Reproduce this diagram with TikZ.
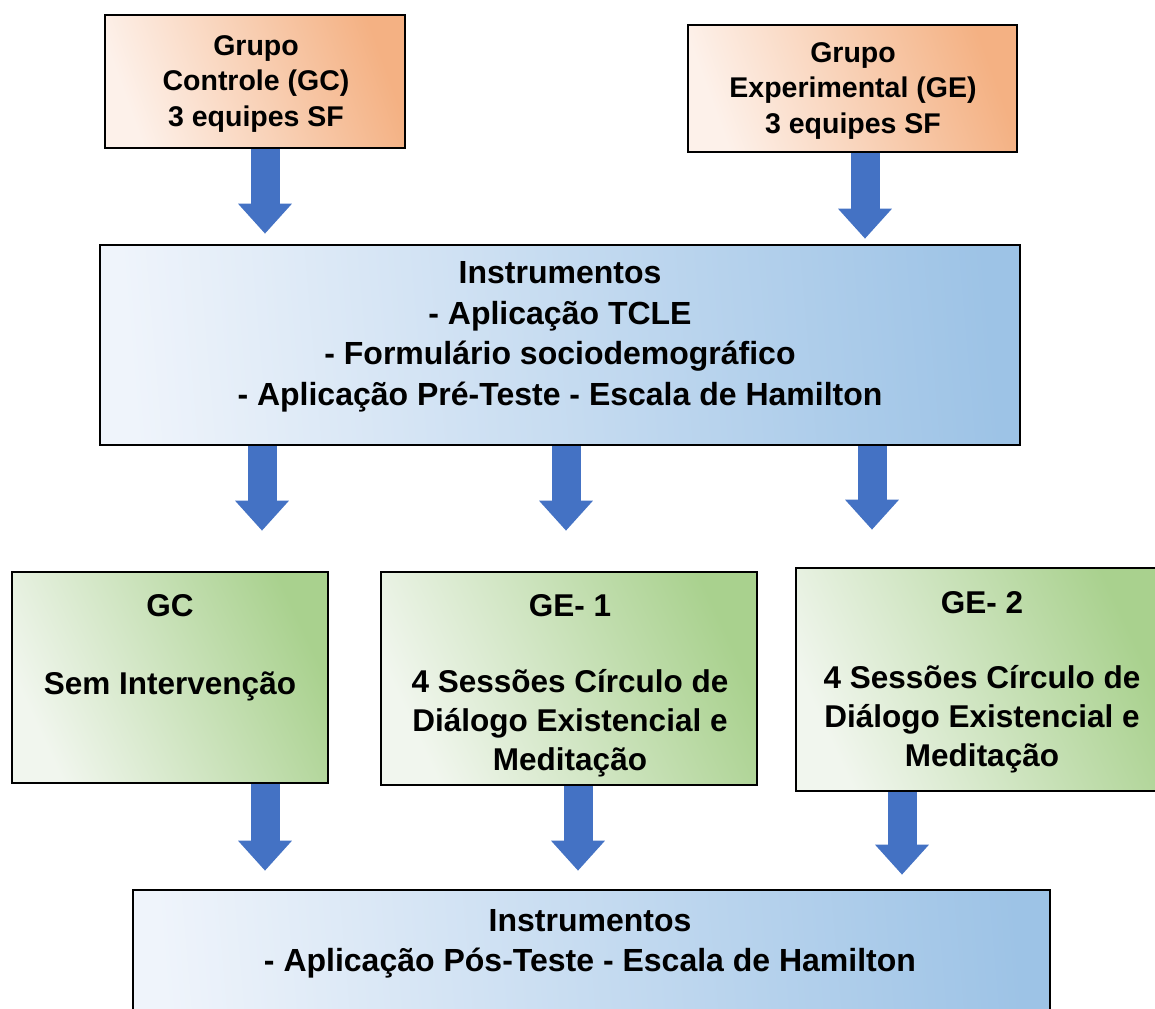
\documentclass[tikz,border=0pt]{standalone}
\usepackage{fontspec}
\setmainfont{Liberation Sans}
\usetikzlibrary{arrows.meta,calc}
\definecolor{orlight}{HTML}{FDF1EA}
\definecolor{ordark}{HTML}{F4B183}
\definecolor{bllight}{HTML}{EFF4FB}
\definecolor{bldark}{HTML}{9DC3E6}
\definecolor{grlight}{HTML}{F1F6EE}
\definecolor{grdark}{HTML}{A9D18E}
\definecolor{arrblue}{HTML}{4472C4}
\tikzset{
  box/.style={draw=black, line width=2.6pt, rectangle, inner sep=0pt},
  orbox/.style={box, left color=orlight, right color=ordark, shading angle=110},
  blbox/.style={box, left color=bllight, right color=bldark, shading angle=95},
  grbox/.style={box, left color=grlight, right color=grdark, shading angle=115},
  txt/.style={font=\bfseries, align=center, inner sep=0pt},
  bigarrow/.style={draw=arrblue, line width=29pt,
    -{Triangle[length=30pt,width=52pt]}},
}
\begin{document}
\begin{tikzpicture}[x=1pt,y=-1pt]
\clip (0,0) rectangle (1155,1008);
\fill[white] (0,0) rectangle (1155,1008);
% top boxes
\node[orbox, minimum width=300pt, minimum height=133pt] (gc) at (255,81.5) {};
\node[txt, font=\fontsize{28.5}{35.5}\selectfont\bfseries] (gctxt) at (256,84) {Grupo\\Controle (GC)\\3 equipes SF};
\node[orbox, minimum width=329pt, minimum height=127pt] (ge) at (852.5,88.5) {};
\node[txt, font=\fontsize{28.5}{35.5}\selectfont\bfseries] (getxt) at (853,91) {Grupo\\Experimental (GE)\\3 equipes SF};
% instruments box
\node[blbox, minimum width=920pt, minimum height=200pt] (inst) at (560,345) {};
\node[txt, font=\fontsize{32}{40.5}\selectfont\bfseries] (insttxt) at (560,337) {Instrumentos\\- Aplicação TCLE\\- Formulário sociodemográfico\\- Aplicação Pré-Teste - Escala de Hamilton};
% green boxes
\node[grbox, minimum width=316pt, minimum height=211pt] (g1) at (170,677.5) {};
\node[txt, font=\fontsize{31.5}{39}\selectfont\bfseries] (g1txt) at (170,648) {GC\\[39pt]Sem Intervenção};
\node[grbox, minimum width=376pt, minimum height=213pt] (g2) at (569,678.5) {};
\node[txt, font=\fontsize{31.5}{39}\selectfont\bfseries] (g2txt) at (570,686) {GE- 1\\[37pt]4 Sessões Círculo de\\Diálogo Existencial e\\Meditação};
\node[grbox, minimum width=362pt, minimum height=223pt] (g3) at (977,679.5) {};
\node[txt, font=\fontsize{31.5}{39}\selectfont\bfseries] (g3txt) at (982,682) {GE- 2\\[36pt]4 Sessões Círculo de\\Diálogo Existencial e\\Meditação};
% bottom box
\node[blbox, minimum width=917pt, minimum height=160pt] (post) at (591.5,970) {};
\node[txt, font=\fontsize{32}{40}\selectfont\bfseries] (posttxt) at (590,944) {Instrumentos\\- Aplicação Pós-Teste - Escala de Hamilton};
% arrows
\coordinate (a1) at ([xshift=10pt]gc.south);
\coordinate (a2) at ([xshift=12.5pt]ge.south);
\draw[bigarrow, shorten >=10pt] (a1) -- (a1 |- inst.north);
\draw[bigarrow, shorten >=5pt] (a2) -- (a2 |- inst.north);
\coordinate (b1) at (262,0);
\coordinate (b2) at (566,0);
\coordinate (b3) at (872,0);
\draw[bigarrow, shorten >=40pt] (b1 |- inst.south) -- (b1 |- g1.north);
\draw[bigarrow, shorten >=40pt] (b2 |- inst.south) -- (b2 |- g2.north);
\draw[bigarrow, shorten >=37pt] (b3 |- inst.south) -- (b3 |- g3.north);
\coordinate (c1) at (265,0);
\coordinate (c2) at (578,0);
\coordinate (c3) at (902,0);
\draw[bigarrow, shorten >=18pt] (c1 |- g1.south) -- (c1 |- post.north);
\draw[bigarrow, shorten >=18pt] (c2 |- g2.south) -- (c2 |- post.north);
\draw[bigarrow, shorten >=14pt] (c3 |- g3.south) -- (c3 |- post.north);
\end{tikzpicture}
\end{document}
